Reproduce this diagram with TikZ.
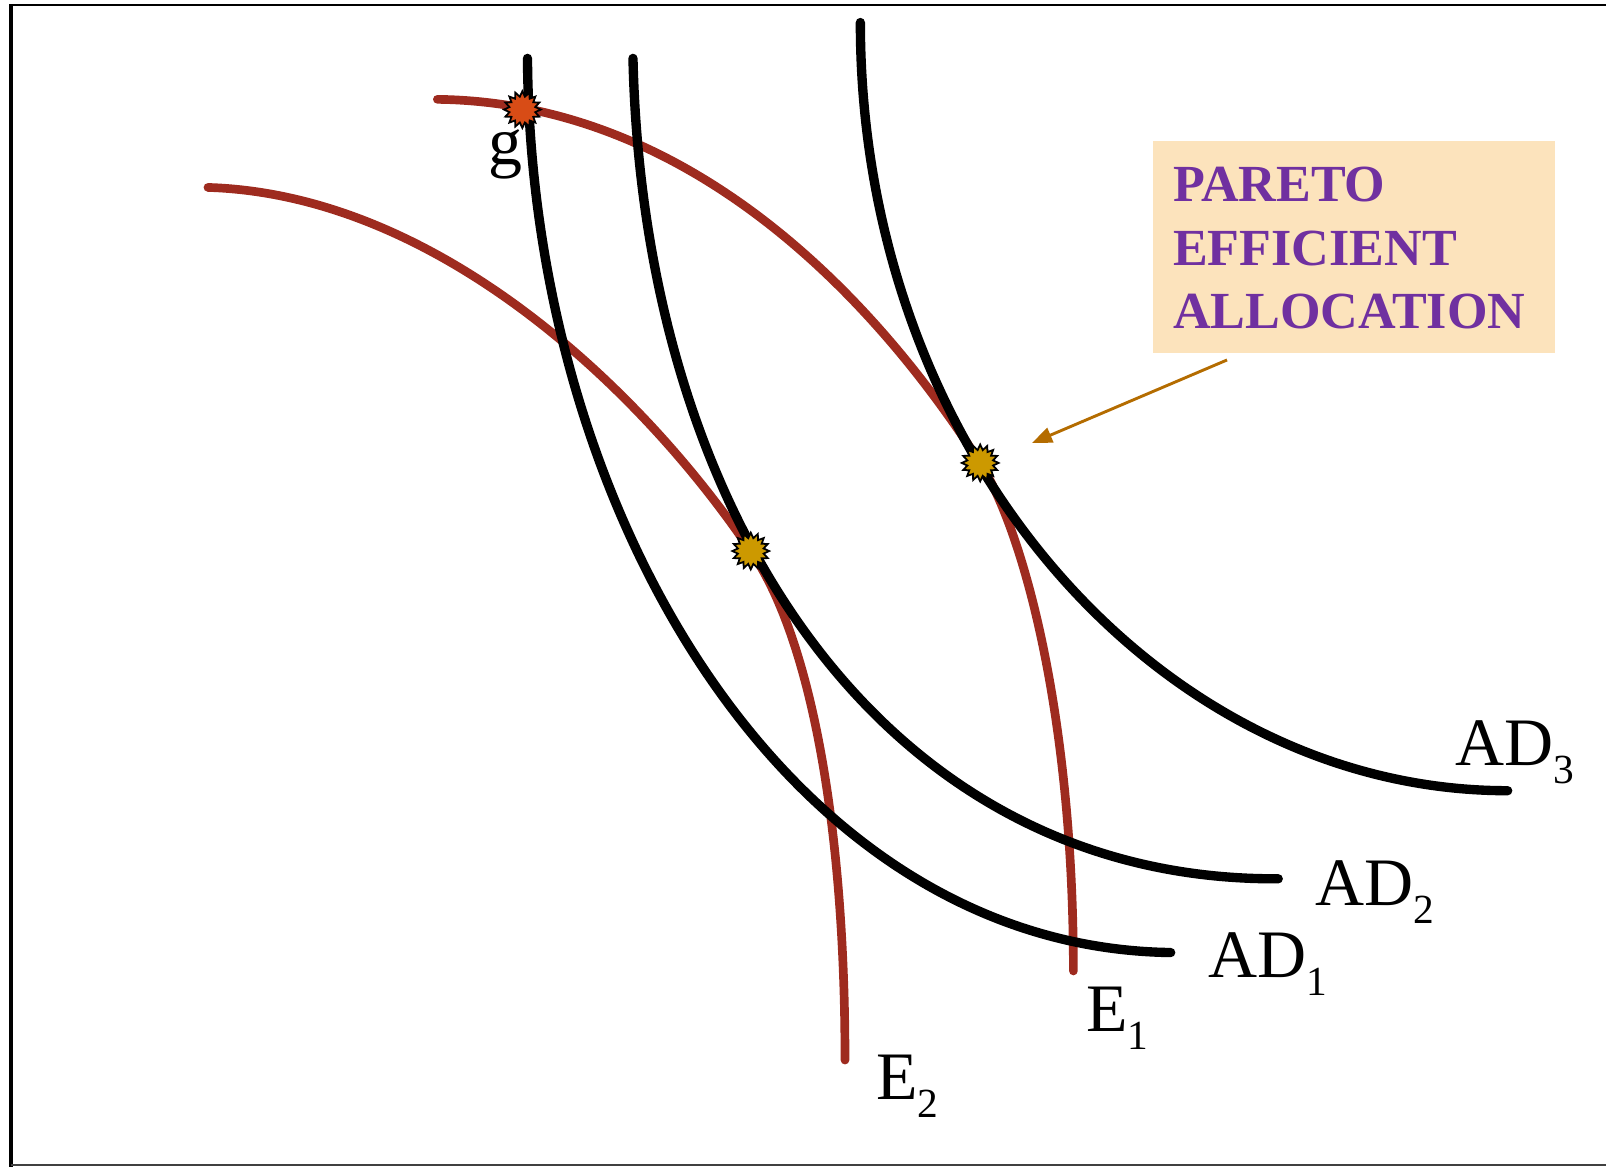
\documentclass[tikz,border=0pt]{standalone}
\usepackage{fontspec}
\setmainfont{Liberation Serif}
\usetikzlibrary{shapes.geometric,arrows.meta}
\definecolor{curvered}{RGB}{158,43,31}
\definecolor{starred}{RGB}{216,76,22}
\definecolor{stargold}{RGB}{204,153,0}
\definecolor{boxfill}{RGB}{252,227,188}
\definecolor{boxtext}{RGB}{112,48,160}
\definecolor{arrowbrown}{RGB}{180,108,0}
\newcommand{\lowsub}[1]{\raisebox{-8.1pt}{\fontsize{18.6}{20}\selectfont #1}}

\begin{document}
\begin{tikzpicture}[x=0.46pt,y=0.46pt,yscale=-1,
  adcurve/.style={line width=4.2pt,line cap=round,black},
  ecurve/.style={line width=3.9pt,line cap=round,curvered},
  eqstar/.style={star,star points=16,star point ratio=1.4,minimum size=16.5pt,inner sep=0pt,draw=black,line width=0.8pt},
  curvelabel/.style={anchor=base west,inner sep=0pt,font=\fontsize{30.5}{36}\selectfont},
  pointer/.style={-{Triangle[length=9pt,width=7pt]},line width=1.3pt,arrowbrown}]
\useasboundingbox (0,0) rectangle (1568,1139);

%Frame
\draw [line width=1.3pt] (12.7,4.9) -- (1568,4.9);
\draw [line width=1.4pt] (10.7,4) -- (10.7,1139);
\draw [line width=1pt,black!75] (10.7,1137.5) -- (1568,1137.5);

%Curve Lines: E2
\draw [ecurve] (203,183) .. controls (430,190) and (630,385) .. (733,538) .. controls (790,620) and (825,800) .. (825,1035);
%Curve Lines: E1
\draw [ecurve] (427,97) .. controls (680,100) and (860,300) .. (957,452) .. controls (1000,520) and (1048,700) .. (1048,948);

%Curve Lines: AD1
\draw [adcurve] (515,57) .. controls (518,500) and (770,925) .. (1143,930);
%Curve Lines: AD2
\draw [adcurve] (618,57) .. controls (628,500) and (860,860) .. (1248,858);
%Curve Lines: AD3
\draw [adcurve] (840,22) .. controls (840,440) and (1130,772) .. (1472,772);

%Stars
\node (gstar) [eqstar,fill=starred] at (510,107) {};
\node (eqlow) [eqstar,fill=stargold] at (733,538) {};
\node (eqhigh) [eqstar,fill=stargold] at (957,452) {};

%Box and pointer
\node (pareto) [anchor=north west,fill=boxfill,minimum width=180.8pt,minimum height=94.8pt,inner sep=0pt] at (1125,137.7) {};
\node (paretotext) [anchor=north west,inner sep=0pt,align=left,text=boxtext,font=\bfseries\fontsize{23.4}{28.5}\selectfont] at (1145,163) {PARETO\\EFFICIENT\\ALLOCATION};
\coordinate (arrowtail) at ([shift={(73,6.8)}]pareto.south west);
\coordinate (arrowtip) at (1007.6,432.5);
\draw [pointer] (arrowtail) -- (arrowtip);

% Text Node
\node (lblg) [curvelabel] at (476.5,161) {g};
\node (lblADthree) [curvelabel] at (1420.6,747) {AD\lowsub{3}};
\node (lblADtwo) [curvelabel] at (1284,883.6) {AD\lowsub{2}};
\node (lblADone) [curvelabel] at (1179,954) {AD\lowsub{1}};
\node (lblEone) [curvelabel] at (1060,1007) {E\lowsub{1}};
\node (lblEtwo) [curvelabel] at (855,1073) {E\lowsub{2}};

\end{tikzpicture}
\end{document}
